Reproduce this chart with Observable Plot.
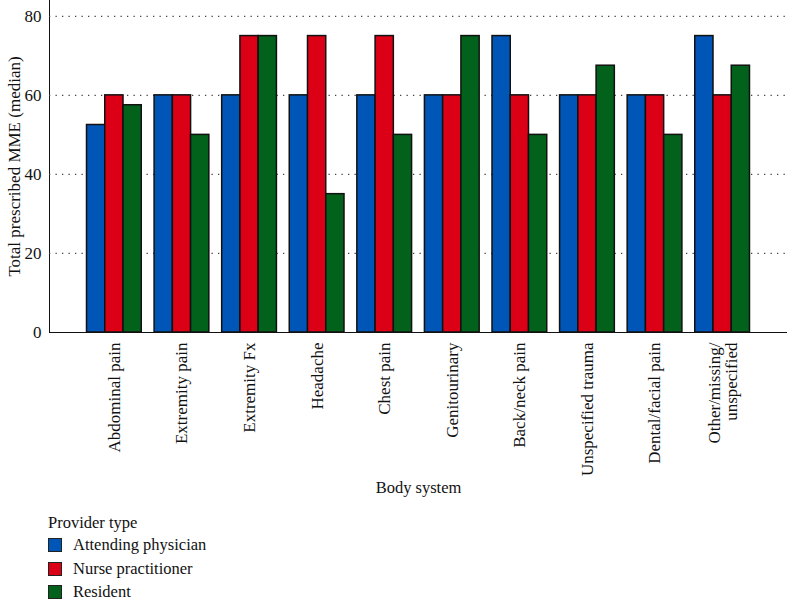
<!DOCTYPE html>
<html>
<head>
<meta charset="utf-8">
<script src="https://cdn.jsdelivr.net/npm/d3@7"></script>
<script src="https://cdn.jsdelivr.net/npm/@observablehq/plot@0.6"></script>
<style>
  html, body { margin: 0; padding: 0; background: #fff; }
  body { width: 787px; font-family: "Liberation Serif", "DejaVu Serif", serif; color: #111; }
  #legend { padding-left: 48px; font-size: 16.5px; line-height: 1; }
  #legend .title { margin-top: 10px; margin-bottom: 2px; }
  #legend .item { display: flex; align-items: center; height: 23.5px; }
  #legend .sw { width: 14px; height: 14px; border: 1px solid #222; margin-right: 11px; box-sizing: border-box; }
</style>
</head>
<body>
<div id="chart"></div>
<div id="legend"></div>
<script>
const categories = ["Abdominal pain", "Extremity pain", "Extremity Fx", "Headache", "Chest pain", "Genitourinary", "Back/neck pain", "Unspecified trauma", "Dental/facial pain", "Other/missing/\nunspecified"];
const providers = ["Attending physician", "Nurse practitioner", "Resident"];
const attending = [52.5, 60, 60, 60, 60, 60, 75, 60, 60, 75];
const nurse = [60, 60, 75, 75, 75, 60, 60, 60, 60, 60];
const resident = [57.5, 50, 75, 35, 50, 75, 50, 67.5, 50, 67.5];
const yTicks = [0, 20, 40, 60, 80];
const colors = ["#0056b7", "#dc0017", "#02611a"];
const xTitle = "Body system";
const yTitle = "Total prescribed MME (median)";

const series = [attending, nurse, resident];
const rows = categories.flatMap((c, i) => providers.map((p, j) => ({category: c, provider: p, value: series[j][i]})));

const W = 787, H = 505;
const mL = 49, mR = 0, mT = 0, mB = H - 332;
const xOpts = {domain: categories, paddingInner: 0.19, paddingOuter: 0.555, round: false};
const probe = Plot.scale({x: {type: "band", ...xOpts, range: [mL, W - mR]}});
const bw = probe.bandwidth;

const chart = Plot.plot({
  width: W, height: H,
  marginLeft: mL, marginRight: mR, marginTop: mT, marginBottom: mB,
  style: {fontFamily: "Liberation Serif, DejaVu Serif, serif", fontSize: "17px", background: "white", color: "#111"},
  x: {...xOpts, tickRotate: -90, tickSize: 0, tickPadding: 10, line: true, label: null},
  y: {domain: [0, 84], ticks: yTicks, tickSize: 0, tickPadding: 8, line: true, label: null},
  color: {domain: providers, range: colors},
  marks: [
    Plot.ruleY(yTicks.filter(t => t > 0), {stroke: "#444", strokeWidth: 1.3, strokeDasharray: "1.3,5.2"}),
    ...providers.map((p, j) => Plot.barY(rows.filter(d => d.provider === p), {
      x: "category", y: "value", fill: "provider", stroke: "#111", strokeWidth: 1.5,
      insetLeft: j * bw / 3, insetRight: (2 - j) * bw / 3
    })),
    Plot.text([xTitle], {text: d => d, frameAnchor: "bottom", dy: 160, fontSize: 16.5, fill: "#111"}),
    Plot.text([yTitle], {text: d => d, frameAnchor: "left", textAnchor: "middle", rotate: -90, dx: -35, fontSize: 17, fill: "#111"})
  ]
});
document.getElementById("chart").appendChild(chart);

const lg = document.getElementById("legend");
const t = document.createElement("div"); t.className = "title"; t.textContent = "Provider type"; lg.appendChild(t);
providers.forEach((p, j) => {
  const it = document.createElement("div"); it.className = "item";
  const sw = document.createElement("span"); sw.className = "sw"; sw.style.background = colors[j];
  const tx = document.createElement("span"); tx.textContent = p;
  it.appendChild(sw); it.appendChild(tx); lg.appendChild(it);
});
</script>
</body>
</html>
